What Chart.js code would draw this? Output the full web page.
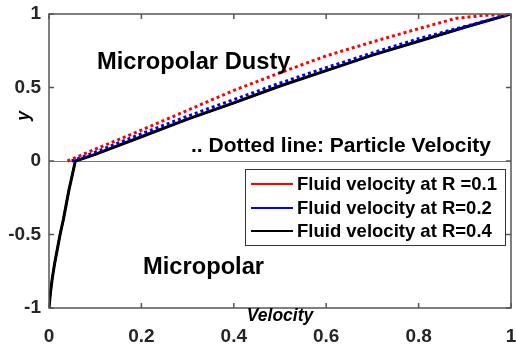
<!DOCTYPE html>
<html>
<head>
<meta charset="utf-8">
<script src="https://cdn.jsdelivr.net/npm/chart.js@4/dist/chart.umd.min.js"></script>
<style>
  html, body { margin: 0; padding: 0; background: #fff; }
  #wrap { width: 516px; height: 344px; }
</style>
</head>
<body>
<div id="wrap"><canvas id="grafico"></canvas></div>
<script>
// fluid velocity (same curve for R = 0.1, 0.2, 0.4 - they overlap)
const fluidVel = [0, 0.003, 0.007, 0.012, 0.018, 0.024, 0.031, 0.037, 0.043, 0.05, 0.057, 0.1, 0.2, 0.3, 0.4, 0.5, 0.6, 0.7, 0.8, 0.9, 1];
const fluidY   = [-1, -0.9, -0.8, -0.7, -0.6, -0.5, -0.4, -0.3, -0.2, -0.1, 0, 0.045, 0.165, 0.285, 0.395, 0.51, 0.615, 0.72, 0.815, 0.91, 1];

// particle velocity (dotted)
const particleVelR01 = [0.04, 0.1, 0.2, 0.3, 0.4, 0.5, 0.6, 0.7, 0.8, 0.88, 0.94, 1];
const particleYR01   = [0, 0.08, 0.21, 0.345, 0.48, 0.6, 0.715, 0.81, 0.9, 0.97, 0.99, 1];
const particleVelR02 = [0.049, 0.1, 0.2, 0.3, 0.4, 0.5, 0.6, 0.7, 0.8, 0.9, 1];
const particleYR02   = [0, 0.06, 0.185, 0.305, 0.418, 0.53, 0.635, 0.735, 0.832, 0.915, 1];

const legendLabels = ['Fluid velocity at R =0.1', 'Fluid velocity at R=0.2', 'Fluid velocity at R=0.4'];
const xTickLabels = ['0', '0.2', '0.4', '0.6', '0.8', '1'];
const yTickLabels = ['-1', '-0.5', '0', '0.5', '1'];

function pontos(xs, ys) {
    return xs.map((x, i) => ({ x: x, y: ys[i] }));
}

const fonte = 'Arial, "Liberation Sans", Helvetica, sans-serif';

// desenha moldura, ticks internos, linha do zero, textos e legenda
const extras = {
    id: 'extras',
    beforeDatasetsDraw(chart) {
        const ctx = chart.ctx;
        const a = chart.chartArea;
        const ys = chart.scales.y;
        ctx.save();
        ctx.strokeStyle = '#777';
        ctx.lineWidth = 1;
        const y0 = Math.round(ys.getPixelForValue(0)) + 0.5;
        ctx.beginPath();
        ctx.moveTo(a.left, y0);
        ctx.lineTo(a.right, y0);
        ctx.stroke();
        ctx.restore();
    },
    afterDatasetsDraw(chart) {
        const ctx = chart.ctx;
        const a = chart.chartArea;
        const xs = chart.scales.x;
        const ys = chart.scales.y;
        ctx.save();
        ctx.strokeStyle = '#555';
        ctx.lineWidth = 1.5;
        ctx.strokeRect(a.left, a.top, a.right - a.left, a.bottom - a.top);
        ctx.beginPath();
        xTickLabels.forEach(t => {
            const px = xs.getPixelForValue(parseFloat(t));
            ctx.moveTo(px, a.bottom); ctx.lineTo(px, a.bottom - 5);
            ctx.moveTo(px, a.top); ctx.lineTo(px, a.top + 5);
        });
        yTickLabels.forEach(t => {
            const py = ys.getPixelForValue(parseFloat(t));
            ctx.moveTo(a.left, py); ctx.lineTo(a.left + 5, py);
            ctx.moveTo(a.right, py); ctx.lineTo(a.right - 5, py);
        });
        ctx.stroke();

        // textos
        ctx.fillStyle = '#000';
        ctx.textBaseline = 'alphabetic';
        ctx.textAlign = 'left';
        ctx.font = 'bold 23.7px ' + fonte;
        ctx.fillText('Micropolar Dusty', 97, 69);
        ctx.fillText('Micropolar', 143, 274);
        ctx.font = 'bold 21px ' + fonte;
        ctx.fillText('.. Dotted line: Particle Velocity', 191, 152);

        // titulos dos eixos
        ctx.font = 'italic bold 17.5px ' + fonte;
        ctx.textAlign = 'center';
        ctx.fillText('Velocity', 280, 321);
        ctx.save();
        ctx.translate(29, 116);
        ctx.rotate(-Math.PI / 2);
        ctx.fillText('y', 0, 0);
        ctx.restore();

        // legenda
        ctx.fillStyle = '#fff';
        ctx.fillRect(245.5, 169.5, 260, 76);
        ctx.strokeStyle = '#333';
        ctx.lineWidth = 1;
        ctx.strokeRect(245.5, 169.5, 260, 76);
        const cores = ['#ff0000', '#0000ff', '#000000'];
        const linhasY = [184, 208, 231];
        ctx.font = 'bold 18.5px ' + fonte;
        ctx.textAlign = 'left';
        ctx.textBaseline = 'middle';
        legendLabels.forEach((lab, i) => {
            ctx.strokeStyle = cores[i];
            ctx.lineWidth = 2;
            ctx.beginPath();
            ctx.moveTo(251, linhasY[i]);
            ctx.lineTo(293, linhasY[i]);
            ctx.stroke();
            ctx.fillStyle = '#000';
            ctx.fillText(lab, 297, linhasY[i] + 1);
        });
        ctx.restore();
    }
};

const ctx = document.getElementById('grafico').getContext('2d');
new Chart(ctx, {
    type: 'scatter',
    data: {
        datasets: [
            { label: 'Particle R=0.1', data: pontos(particleVelR01, particleYR01), borderColor: '#ff0000', borderWidth: 3, borderDash: [3, 3], showLine: true, pointRadius: 0 },
            { label: 'Particle R=0.2', data: pontos(particleVelR02, particleYR02), borderColor: '#0000ff', borderWidth: 3, borderDash: [3, 3], showLine: true, pointRadius: 0 },
            { label: legendLabels[2], data: pontos(fluidVel, fluidY), borderColor: '#000000', borderWidth: 3, showLine: true, pointRadius: 0 },
            { label: legendLabels[1], data: pontos(fluidVel, fluidY), borderColor: '#0000ff', borderWidth: 2, showLine: true, pointRadius: 0 },
            { label: legendLabels[0], data: pontos(fluidVel, fluidY), borderColor: '#ff0000', borderWidth: 2, showLine: true, pointRadius: 0 }
        ]
    },
    options: {
        responsive: true,
        maintainAspectRatio: false,
        animation: false,
        layout: { padding: { top: 14, right: 5, left: 0, bottom: 0 } },
        plugins: { legend: { display: false }, tooltip: { enabled: false } },
        scales: {
            x: {
                type: 'linear', min: 0, max: 1,
                afterFit: s => { s.height = 36; s.paddingLeft = 0; s.paddingRight = 0; },
                afterBuildTicks: s => { s.ticks = xTickLabels.map(t => ({ value: parseFloat(t) })); },
                grid: { display: false, drawTicks: false },
                border: { display: false },
                ticks: {
                    padding: 17, color: '#262626', maxRotation: 0,
                    font: { family: fonte, size: 19, weight: 'bold' },
                    callback: (v, i) => xTickLabels[i]
                }
            },
            y: {
                type: 'linear', min: -1, max: 1,
                afterFit: s => { s.width = 49; s.paddingTop = 0; s.paddingBottom = 0; },
                afterBuildTicks: s => { s.ticks = yTickLabels.map(t => ({ value: parseFloat(t) })); },
                grid: { display: false, drawTicks: false },
                border: { display: false },
                ticks: {
                    padding: 8, color: '#262626',
                    font: { family: fonte, size: 19, weight: 'bold' },
                    callback: (v, i) => yTickLabels[i]
                }
            }
        }
    },
    plugins: [extras]
});
</script>
</body>
</html>
